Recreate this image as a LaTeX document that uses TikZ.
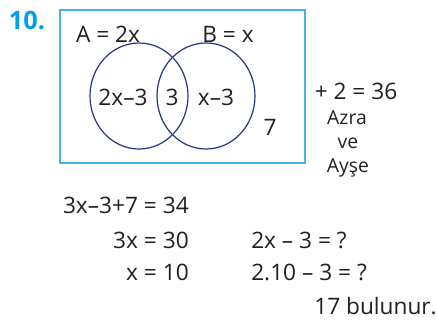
\documentclass[tikz,border=0pt]{standalone}
\usepackage{fontspec}
\setmainfont{Open Sans}
\usepackage{xcolor}
\usetikzlibrary{
    positioning,
    shapes.geometric
}
\definecolor{numcyan}{RGB}{0,160,226}
\definecolor{boxcyan}{RGB}{70,180,230}
\definecolor{setblue}{RGB}{38,52,138}
\definecolor{txt}{RGB}{35,31,32}
\tikzset{
  lbl/.style  = {inner sep=0pt, font=\fontsize{17}{19}\selectfont, text=txt},
  eq/.style   = {lbl},
  who/.style  = {inner sep=0pt, font=\fontsize{14.5}{16}\selectfont, text=txt},
  set/.style  = {draw=setblue, line width=0.9pt, ellipse, inner sep=0pt,
                 minimum width=73.5pt, minimum height=79.5pt}
}

\begin{document}
\begin{tikzpicture}[
  x=0.75pt, y=-0.75pt,
  num/.style={inner sep=0pt, font=\fontsize{19}{21}\selectfont\bfseries, text=numcyan},
  frame/.style={draw=boxcyan, line width=1pt}
]
\useasboundingbox (0,0) rectangle (437,321);

\node[num] (no) at (27,20) {10.};

%% universal set
\draw[frame] (60,10) rectangle (305,163);
\node[set] (setA) at (139,96) {};
\node[set] (setB) at (206,96) {};

\node[lbl] (la)  at (108,34) {A = 2x};
\node[lbl] (lb)  at (228,34) {B = x};
\node[lbl] (ra)  at (123,97) {2x–3};
\node[lbl] (rab) at (172,97) {3};
\node[lbl] (rb)  at (216,97) {x–3};
\node[lbl] (out) at (270,127) {7};

%% right side
\node[lbl] (sum)  at (356,91)  {+ 2 = 36};
\node[who] (azra) at (347,118) {Azra};
\node[who] (ve)   at (348,143) {ve};
\node[who] (ayse) at (348,168) {Ayşe};

%% solution
\node[eq, anchor=east] (e1) at (189,205) {3x–3+7 = 34};
\node[eq, anchor=east] (e2) at (189,240) {3x = 30};
\node[eq, anchor=east] (e3) at (189,272) {x = 10};
\node[eq, anchor=west] (f1) at (251,240) {2x – 3 = ?};
\node[eq, anchor=west] (f2) at (251,272) {2.10 – 3 = ?};
\node[eq, anchor=east] (res) at (437,306) {17 bulunur.};

\end{tikzpicture}
\end{document}
